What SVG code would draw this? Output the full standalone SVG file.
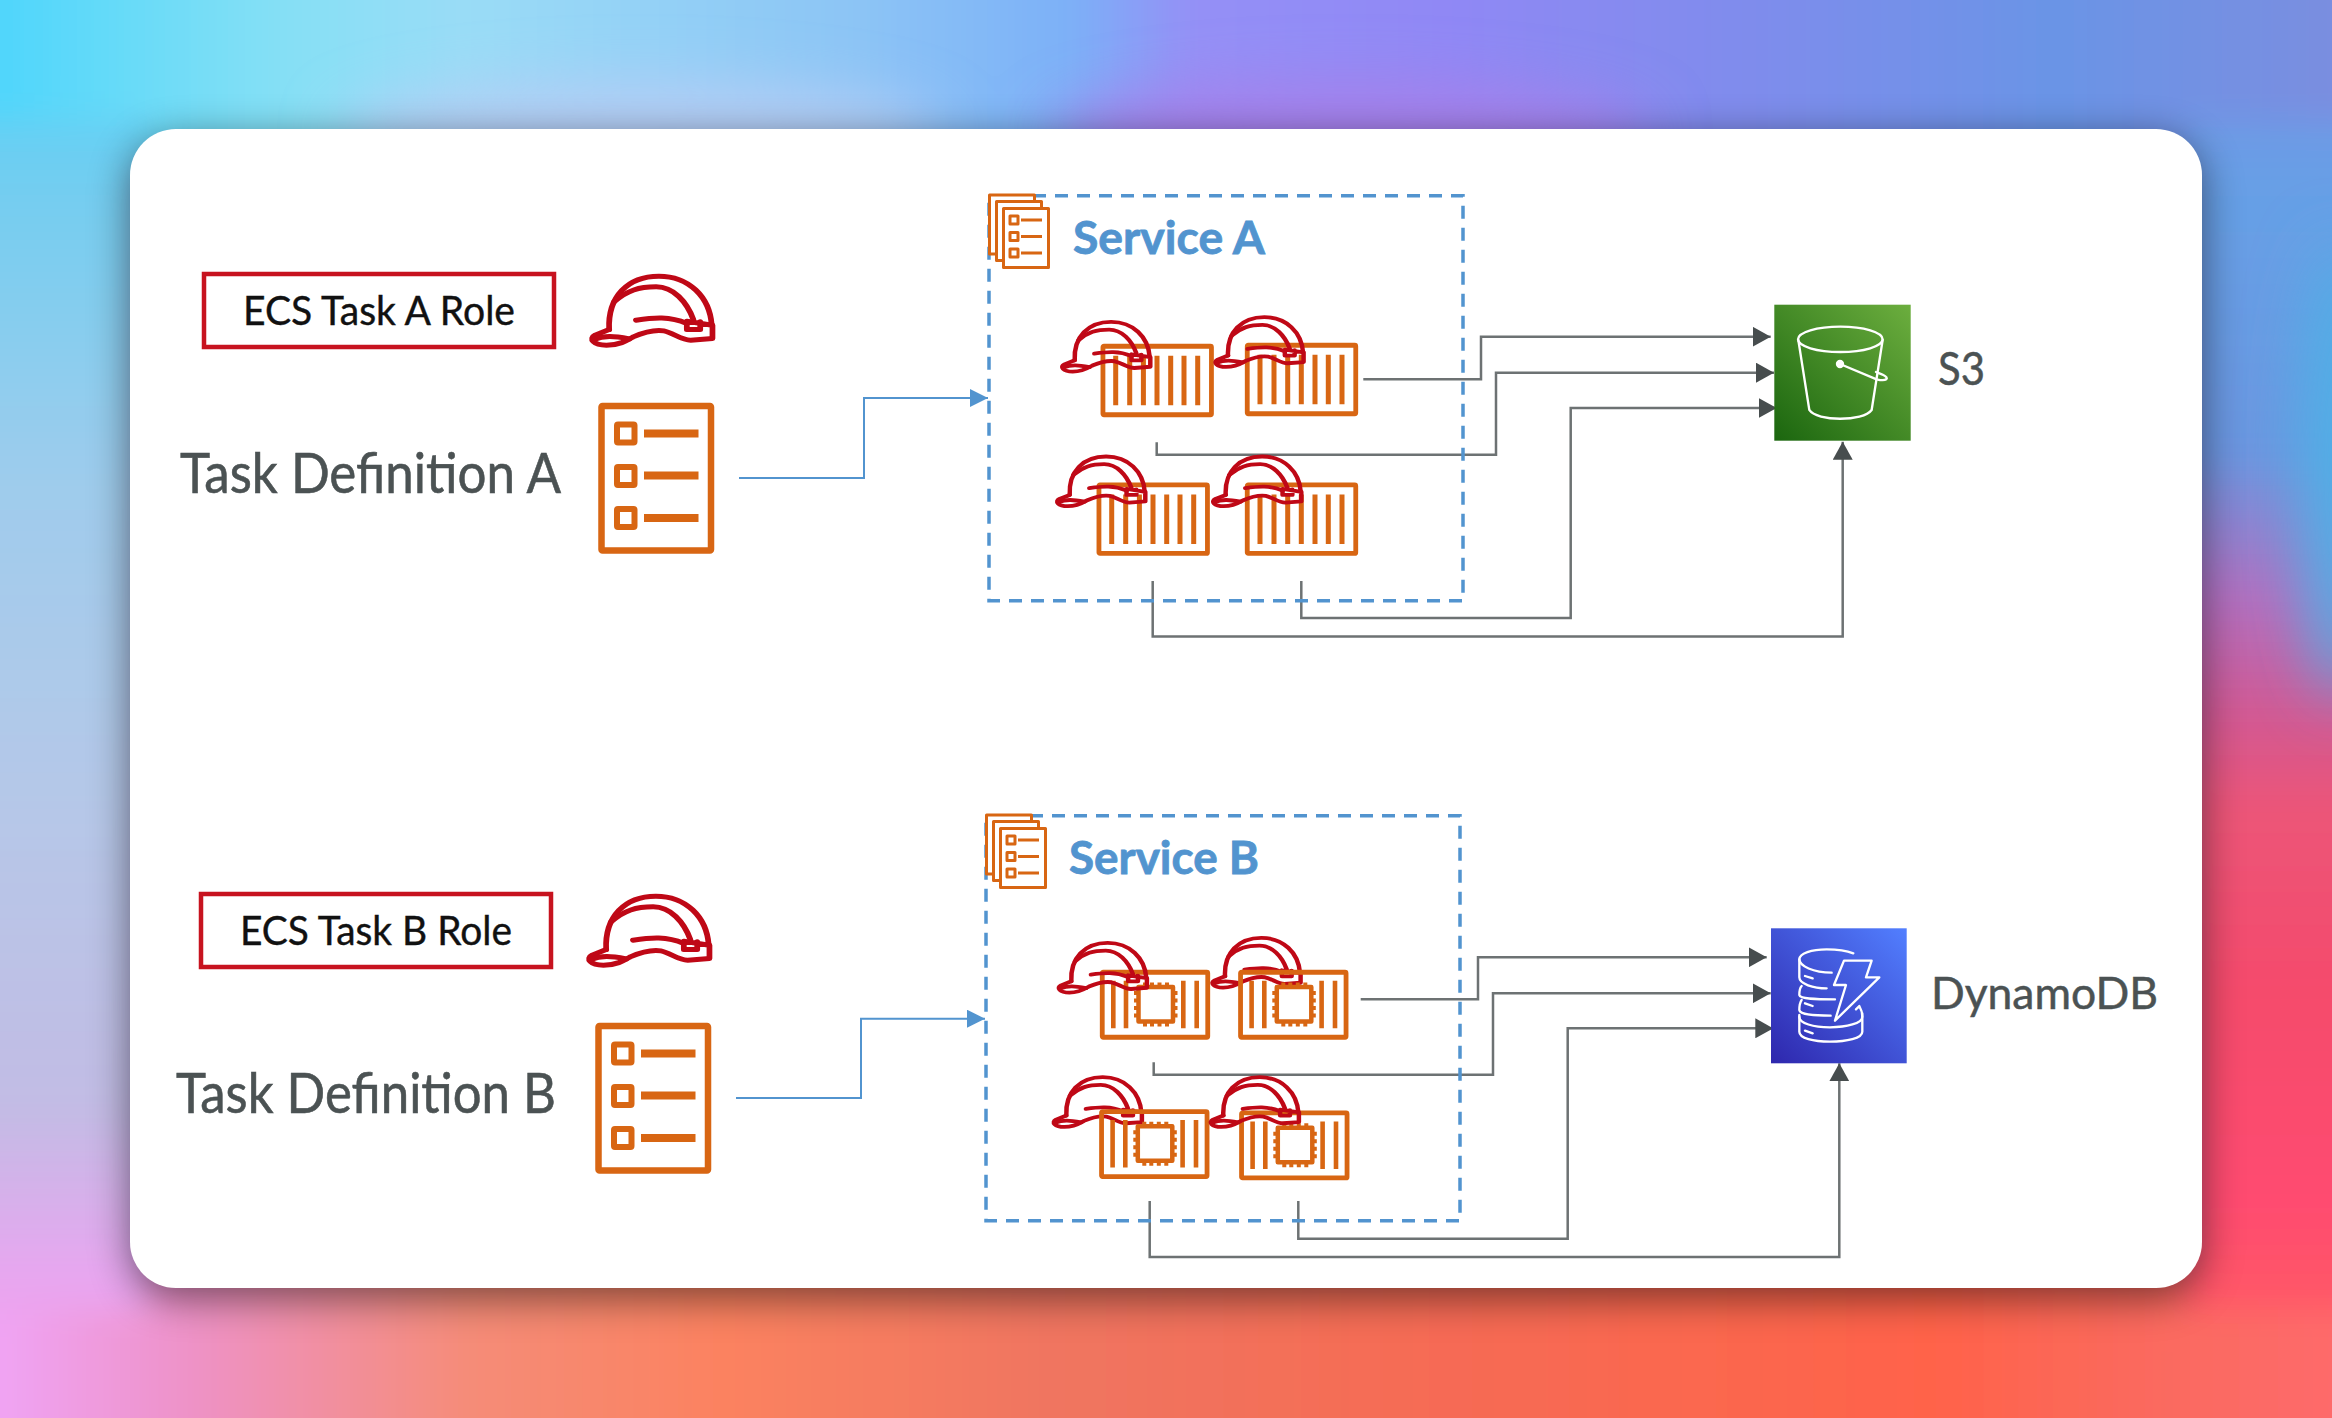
<svg xmlns="http://www.w3.org/2000/svg" width="2332" height="1418" viewBox="0 0 2332 1418">
<style>
.role{font:41px Lato,"Liberation Sans",sans-serif;fill:#111;stroke:#111;stroke-width:.4}
.lbl{font:57px Lato,"Liberation Sans",sans-serif;fill:#4b5253;stroke:#4b5253;stroke-width:.6}
.svc{font:bold 45px Lato,"Liberation Sans",sans-serif;fill:#5294cf;stroke:#5294cf;stroke-width:.8}
.aws{font:44px Lato,"Liberation Sans",sans-serif;fill:#4b5253;stroke:#4b5253;stroke-width:.5}
.rolebox{fill:#fff;stroke:#c7131f;stroke-width:4.5}
.dash{fill:none;stroke:#5294cf;stroke-width:3.5;stroke-dasharray:13 9}
.o{fill:none;stroke:#d86613;stroke-linejoin:round}
.hatbig{fill:none;stroke:#bf0816;stroke-width:15;stroke-linecap:round;stroke-linejoin:round}
.hatsm{fill:none;stroke:#bf0816;stroke-width:16;stroke-linecap:round;stroke-linejoin:round}
.g{fill:none;stroke:#6d7273;stroke-width:2.5}
.b{fill:none;stroke:#5294cf;stroke-width:2}
.w{fill:none;stroke:#fff;stroke-linecap:round;stroke-linejoin:round;stroke-width:7}
</style>
<defs>
<filter id="bl" x="-10%" y="-15%" width="120%" height="130%"><feGaussianBlur stdDeviation="16"/></filter>
<filter id="bl2" x="-50%" y="-100%" width="200%" height="300%"><feGaussianBlur stdDeviation="30"/></filter>
<filter id="sh" x="-10%" y="-10%" width="120%" height="120%"><feGaussianBlur stdDeviation="20"/></filter>
<linearGradient id="gt" gradientUnits="userSpaceOnUse" x1="0" y1="0" x2="2332" y2="0"><stop offset="0" stop-color="#4fd6fb"/><stop offset=".12" stop-color="#85e0f5"/><stop offset=".2" stop-color="#9adcf6"/><stop offset=".37" stop-color="#8cc4f5"/><stop offset=".46" stop-color="#7cb0f8"/><stop offset=".51" stop-color="#9490f6"/><stop offset=".62" stop-color="#9088f5"/><stop offset=".75" stop-color="#7f8cec"/><stop offset=".88" stop-color="#6a94e6"/><stop offset="1" stop-color="#7a8ee0"/></linearGradient>
<linearGradient id="gb" gradientUnits="userSpaceOnUse" x1="0" y1="0" x2="2332" y2="0"><stop offset="0" stop-color="#f0a4f4"/><stop offset=".08" stop-color="#ee92c8"/><stop offset=".2" stop-color="#f58c78"/><stop offset=".31" stop-color="#fb8260"/><stop offset=".45" stop-color="#f07560"/><stop offset=".6" stop-color="#f56c55"/><stop offset=".83" stop-color="#ff634a"/><stop offset=".93" stop-color="#fa6a60"/><stop offset="1" stop-color="#fe6a6a"/></linearGradient>
<linearGradient id="gl" gradientUnits="userSpaceOnUse" x1="0" y1="0" x2="0" y2="1418"><stop offset="0" stop-color="#4cd4fa"/><stop offset=".14" stop-color="#75cdf0"/><stop offset=".35" stop-color="#a0ccec"/><stop offset=".56" stop-color="#b5c8e8"/><stop offset=".78" stop-color="#c2bce4"/><stop offset=".9" stop-color="#e8a6f0"/><stop offset="1" stop-color="#f0a0e8"/></linearGradient>
<linearGradient id="gr" gradientUnits="userSpaceOnUse" x1="0" y1="0" x2="0" y2="1418"><stop offset="0" stop-color="#7b90e4"/><stop offset=".14" stop-color="#66a0e6"/><stop offset=".32" stop-color="#6b96e0"/><stop offset=".42" stop-color="#b070c0"/><stop offset=".5" stop-color="#d05a95"/><stop offset=".57" stop-color="#ec5578"/><stop offset=".7" stop-color="#f54b6c"/><stop offset=".85" stop-color="#ff4c70"/><stop offset=".94" stop-color="#ff5a64"/><stop offset="1" stop-color="#ff6a60"/></linearGradient>
<linearGradient id="gs" x1="0" y1="1" x2="1" y2="0"><stop offset="0" stop-color="#1b660f"/><stop offset="1" stop-color="#6cae3e"/></linearGradient>
<linearGradient id="gd" x1="0" y1="1" x2="1" y2="0"><stop offset="0" stop-color="#2e27ad"/><stop offset="1" stop-color="#527fff"/></linearGradient>
<marker id="ag" markerUnits="userSpaceOnUse" markerWidth="18" markerHeight="20" refX="18" refY="10" orient="auto"><path d="M0 0L18 10L0 20Z" fill="#474d4e"/></marker>
<marker id="ab" markerUnits="userSpaceOnUse" markerWidth="18" markerHeight="18" refX="18" refY="9" orient="auto"><path d="M0 0L18 9L0 18Z" fill="#5294cf"/></marker>
<g id="hat">
<path d="M1122 268C1118 170 1170 108 1252 108C1330 108 1385 170 1390 255"/>
<path d="M1135 185C1170 150 1200 140 1245 140C1290 140 1325 185 1342 238"/>
<path d="M1122 268L1085 285C1068 295 1080 315 1115 315C1150 315 1170 300 1185 290C1215 275 1240 268 1265 272C1290 278 1310 300 1335 300L1392 295V255L1325 243V268H1360V245"/>
<path d="M1082 298C1110 285 1135 288 1175 296"/>
<path d="M1192 240C1240 232 1280 228 1325 250"/>
</g>
<g id="taskdef" class="o">
<rect x="601.500" y="406" width="109.500" height="144.500" stroke-width="6.500" rx="1"/>
<g stroke-width="6"><rect x="617" y="424.500" width="17.500" height="18" rx="1"/><rect x="617" y="467" width="17.500" height="18" rx="1"/><rect x="617" y="509" width="17.500" height="18" rx="1"/></g>
<path d="M644 433.500H698.500M644 475.500H698.500M644 518H698.500" stroke-width="8"/>
</g>
<g id="stack" class="o" stroke-width="3">
<rect x="989.500" y="195" width="45" height="59" fill="#fff"/>
<rect x="996.500" y="201.500" width="45" height="59" fill="#fff"/>
<rect x="1003.500" y="208.500" width="45" height="59" fill="#fff"/>
<rect x="1010" y="216" width="8" height="8"/><rect x="1010" y="232.500" width="8" height="8"/><rect x="1010" y="249" width="8" height="8"/>
<path d="M1021 220H1042M1021 236.500H1042M1021 253H1042"/>
</g>
<g id="ctr" class="o">
<rect x="2.250" y="2.250" width="108.500" height="68.500" stroke-width="4.800" rx="1"/>
<path d="M15 11.700V61.300M29 11.700V61.300M42.700 11.700V61.300M56.300 11.700V61.300M70 11.700V61.300M83.300 11.700V61.300M97 11.700V61.300" stroke-width="5"/>
</g>
<g id="ctrchip" class="o">
<rect x="2.250" y="2.250" width="105.500" height="65" stroke-width="4.800" rx="1"/>
<path d="M13.300 10.700V58.300M26 10.700V58.300M83.300 10.700V58.300M96.700 10.700V58.300" stroke-width="4.600"/>
<rect x="38.500" y="17" width="34.500" height="34.500" stroke-width="4.500"/>
<path d="M45 12.500V17M52 12.500V17M59.500 12.500V17M67 12.500V17M45 51.500V56.500M52 51.500V56.500M59.500 51.500V56.500M67 51.500V56.500M34 23H38.500M34 30.500H38.500M34 38H38.500M34 45.500H38.500M73 23H77.500M73 30.500H77.500M73 38H77.500M73 45.500H77.500" stroke-width="4"/>
</g>
</defs>
<g id="background">
<rect width="2332" height="1418" fill="#b08cd8"/>
<g filter="url(#bl)">
<rect x="-100" y="-100" width="2532" height="270" fill="url(#gt)"/>
<rect x="-100" y="1260" width="2532" height="260" fill="url(#gb)"/>
<rect x="-100" y="120" width="250" height="1190" fill="url(#gl)"/>
<rect x="2180" y="120" width="252" height="1190" fill="url(#gr)"/>
</g>
<g filter="url(#bl2)">
<ellipse cx="640" cy="135" rx="300" ry="50" fill="#b6cdf5"/>
<ellipse cx="1350" cy="135" rx="300" ry="50" fill="#a680ea"/>
<ellipse cx="2340" cy="470" rx="40" ry="230" fill="#4fb0e6"/>
</g>
</g>
<rect x="130" y="139" width="2072" height="1159" rx="46" fill="#000" opacity=".5" filter="url(#sh)"/>
<rect id="card" x="130" y="129" width="2072" height="1159" rx="46" fill="#fff"/>

<g id="connectors">
<path class="b" d="M739 478H864V398H988" marker-end="url(#ab)"/>
<path class="g" d="M1363.300 379.300H1481V336.700H1770.700" marker-end="url(#ag)"/>
<path class="g" d="M1156.700 442.300V454.700H1496V372.700H1774" marker-end="url(#ag)"/>
<path class="g" d="M1301.300 581V618H1570.700V408H1776.700" marker-end="url(#ag)"/>
<path class="g" d="M1152.700 581V636.500H1842.700V441.700" marker-end="url(#ag)"/>
<path class="b" d="M736 1098H861V1018.700H985" marker-end="url(#ab)"/>
<path class="g" d="M1360.700 999.300H1478V957.300H1766.700" marker-end="url(#ag)"/>
<path class="g" d="M1153.700 1062.300V1074.700H1493V993.300H1770.700" marker-end="url(#ag)"/>
<path class="g" d="M1298.300 1201V1238.700H1567.700V1028.300H1773.300" marker-end="url(#ag)"/>
<path class="g" d="M1149.700 1201V1257H1839.300V1063.300" marker-end="url(#ag)"/>
</g>

<g id="role-a">
<rect class="rolebox" x="204" y="274" width="350" height="73"/>
<text class="role" x="243" y="325" textLength="272" lengthAdjust="spacingAndGlyphs">ECS Task A Role</text>
</g>
<use id="hat-a" class="hatbig" href="#hat" transform="translate(590 274.500) scale(.3827 .3336) translate(-1072 -103)"/>
<g id="taskdef-a">
<text class="lbl" x="180" y="493" textLength="381" lengthAdjust="spacingAndGlyphs">Task Definition A</text>
<use href="#taskdef"/>
</g>
<g id="service-a">
<rect class="dash" x="989" y="195.700" width="474" height="405"/>
<use href="#stack"/>
<text class="svc" x="1073" y="254" textLength="192" lengthAdjust="spacingAndGlyphs">Service A</text>
</g>
<g id="task-a1"><use href="#ctr" x="1100.700" y="344"/><use class="hatsm" href="#hat" transform="translate(1060.700 320.700) scale(.28 .24) translate(-1072 -103)"/></g>
<g id="task-a2"><use href="#ctr" x="1245" y="343"/><use class="hatsm" href="#hat" transform="translate(1214 316) scale(.28 .24) translate(-1072 -103)"/></g>
<g id="task-a3"><use href="#ctr" x="1096.700" y="482.700"/><use class="hatsm" href="#hat" transform="translate(1055.700 455.300) scale(.28 .24) translate(-1072 -103)"/></g>
<g id="task-a4"><use href="#ctr" x="1245" y="482.700"/><use class="hatsm" href="#hat" transform="translate(1211.700 455.300) scale(.28 .24) translate(-1072 -103)"/></g>

<g id="s3">
<rect x="1774.300" y="304.700" width="136.400" height="136" fill="url(#gs)"/>
<g class="w" transform="translate(1700 280) scale(.3333)">
<ellipse cx="421" cy="178" rx="127" ry="38"/>
<path d="M295 180L328 390C350 425 490 425 515 390L548 180"/>
<circle cx="420" cy="252" r="9" fill="#fff"/>
<path d="M420 252L530 298C560 305 570 295 550 285C540 280 533 278 528 276"/>
</g>
<text class="aws" x="1938" y="385" font-size="47" style="font-size:47px" textLength="47" lengthAdjust="spacingAndGlyphs">S3</text>
</g>

<g id="role-b">
<rect class="rolebox" x="201" y="894" width="350" height="73"/>
<text class="role" x="240" y="945" textLength="272" lengthAdjust="spacingAndGlyphs">ECS Task B Role</text>
</g>
<use id="hat-b" class="hatbig" href="#hat" transform="translate(587 894.500) scale(.3827 .3336) translate(-1072 -103)"/>
<g id="taskdef-b">
<text class="lbl" x="176" y="1113" textLength="380" lengthAdjust="spacingAndGlyphs">Task Definition B</text>
<use href="#taskdef" x="-3" y="620"/>
</g>
<g id="service-b">
<rect class="dash" x="986" y="815.700" width="474" height="405"/>
<use href="#stack" x="-3" y="620"/>
<text class="svc" x="1069" y="874" textLength="190" lengthAdjust="spacingAndGlyphs">Service B</text>
</g>
<g id="task-b1"><use href="#ctrchip" x="1100" y="970"/><use class="hatsm" href="#hat" transform="translate(1057.300 941.700) scale(.28 .24) translate(-1072 -103)"/></g>
<g id="task-b2"><use class="hatsm" href="#hat" transform="translate(1211 936.700) scale(.28 .24) translate(-1072 -103)"/><use href="#ctrchip" x="1238.300" y="970"/></g>
<g id="task-b3"><use class="hatsm" href="#hat" transform="translate(1052.300 1076) scale(.28 .24) translate(-1072 -103)"/><use href="#ctrchip" x="1099.300" y="1109.300"/></g>
<g id="task-b4"><use href="#ctrchip" x="1239.300" y="1110.700"/><use class="hatsm" href="#hat" transform="translate(1209.300 1076) scale(.28 .24) translate(-1072 -103)"/></g>

<g id="dynamodb">
<rect x="1771" y="928.300" width="135.700" height="135" fill="url(#gd)"/>
<g class="w" transform="translate(1700 900) scale(.3333)">
<path d="M460 160C430 148 400 148 380 148C335 148 298 160 298 178C298 198 340 218 395 218"/>
<path d="M298 178V232C298 252 340 265 380 265"/>
<path d="M305 258C298 265 298 275 298 285C300 298 350 298 405 298"/>
<path d="M305 300C298 310 298 320 298 330C300 345 345 347 392 347"/>
<path d="M298 345V395C298 415 340 425 390 425C440 425 487 415 487 395V340"/>
<path d="M298 350C298 370 340 382 390 382C440 382 487 370 487 350C487 335 482 325 478 318L468 328"/>
<path d="M432 182H515L498 232H538L405 362L438 255H402Z"/>
<path d="M315 228L338 235M315 310L338 318M315 392L338 400"/>
</g>
<text class="aws" x="1931" y="1009" textLength="227" lengthAdjust="spacingAndGlyphs">DynamoDB</text>
</g>
</svg>
